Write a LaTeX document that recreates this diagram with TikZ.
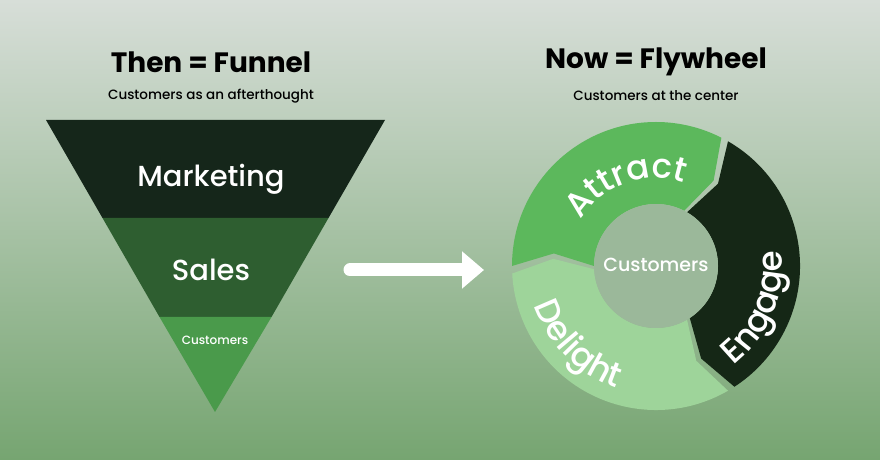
\documentclass[tikz,border=0pt]{standalone}
\usepackage{fontspec}
\setmainfont{Poppins}
\newfontfamily\pmed{Poppins Medium}
\usetikzlibrary{decorations.text,arrows.meta}
\definecolor{bgtop}{HTML}{D7DED8}
\definecolor{bgbot}{HTML}{76A571}
\definecolor{fdark}{HTML}{15261A}
\definecolor{fmid}{HTML}{2E5E30}
\definecolor{flight}{HTML}{4A9A4B}
\definecolor{attr}{HTML}{5CB85C}
\definecolor{eng}{HTML}{152716}
\definecolor{deli}{HTML}{9ED49A}
\definecolor{hub}{HTML}{9BB89A}
\tikzset{
 lbl/.style={text=white,font=\fontsize{#1}{#1}\selectfont\pmed},
 arctext/.style={decorate,decoration={text along path,text align=center,text color=white,text={|\fontsize{34}{34}\selectfont\pmed|#1}}}
}
\begin{document}
\begin{tikzpicture}[x=1pt,y=1pt]
\shade[top color=bgtop,bottom color=bgbot] (0,0) rectangle (880,460);
\useasboundingbox (0,0) rectangle (880,460);
% titles
\node[font=\fontsize{28}{28}\selectfont\bfseries] (t1) at (211,398) {Then = Funnel};
\node[font=\fontsize{13.5}{13.5}\selectfont\pmed] (s1) at (211,364) {Customers as an afterthought};
\node[font=\fontsize{28}{28}\selectfont\bfseries] (t2) at (656,398) {Now = Flywheel};
\node[font=\fontsize{13.5}{13.5}\selectfont\pmed] (s2) at (656,364) {Customers at the center};
% funnel
\fill[fdark] (46,340) -- (385,340) -- (328.5,242) -- (102.5,242) -- cycle;
\fill[fmid] (102.5,242) -- (328.5,242) -- (271.5,143) -- (159.5,143) -- cycle;
\fill[flight] (159.5,143) -- (271.5,143) -- (215,48) -- cycle;
\node[lbl=29] (mk) at (211,281) {Marketing};
\node[lbl=29] (sl) at (211,190) {Sales};
\node[lbl=12] (cu) at (215,120) {Customers};
% arrow
\coordinate (a0) at (350,190);
\coordinate (a1) at (484,190);
\draw[white,line width=13pt,line cap=round,-{Triangle[length=22pt,width=36pt]}] (a0) -- (a1);
% flywheel
\begin{scope}[shift={(656,194)}]
\def\R{144}\def\r{62}\def\m{103}\def\d{7}
\fill[attr] (180:\R) arc[start angle=180,end angle=63,radius=\R] -- (56:\m) -- (63:\r) arc[start angle=63,end angle=180,radius=\r] -- (173:\m) -- cycle;
\fill[eng] (60:\R) arc[start angle=60,end angle=-57,radius=\R] -- (-64:\m) -- (-57:\r) arc[start angle=-57,end angle=60,radius=\r] -- (53:\m) -- cycle;
\fill[deli] (-60:\R) arc[start angle=-60,end angle=-177,radius=\R] -- (-184:\m) -- (-177:\r) arc[start angle=-177,end angle=-60,radius=\r] -- (-67:\m) -- cycle;
\fill[hub] (0,0) circle (\r);
\node[lbl=19] (hubt) at (0,1) {Customers};
\path[arctext=Attract] (165:88) arc[start angle=165,end angle=55,radius=88];
\path[arctext=Engage] (-75:126) arc[start angle=-75,end angle=30,radius=126];
\path[arctext=Delight] (165:128) arc[start angle=165,end angle=285,radius=128];
\end{scope}
\end{tikzpicture}
\end{document}
